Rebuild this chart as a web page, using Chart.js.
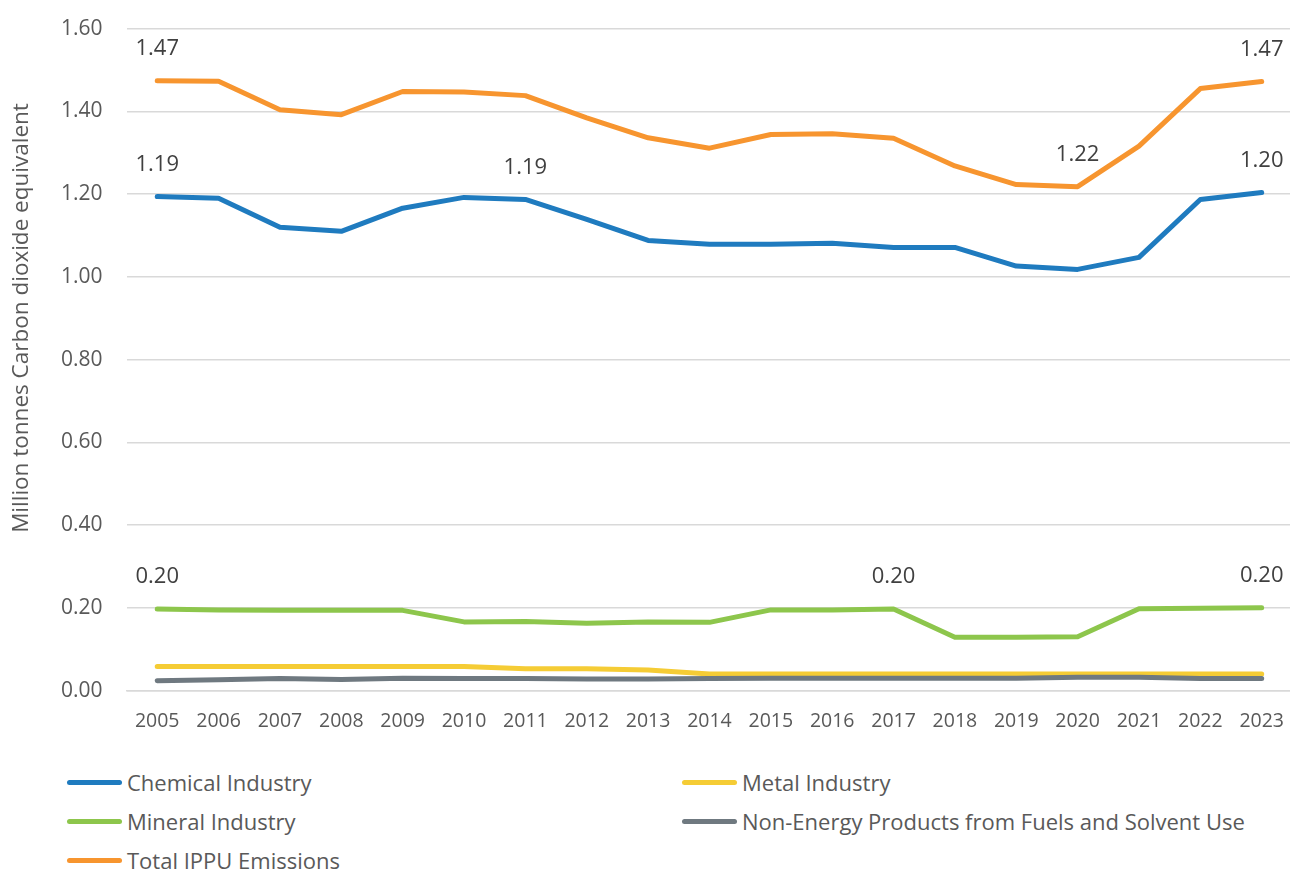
<!DOCTYPE html>
<html>
<head>
<meta charset="utf-8">
<script src="https://cdn.jsdelivr.net/npm/chart.js@4/dist/chart.umd.min.js"></script>
<style>
  html, body { margin: 0; padding: 0; background: #fff; }
  body { width: 1290px; height: 872px; position: relative; overflow: hidden; font-family: "Open Sans", "Noto Sans", sans-serif; }
  #wrap { position: absolute; left: 0; top: -8px; width: 1295px; height: 752px; }
  .legend { position: absolute; left: 67px; top: 767px; display: grid; grid-template-columns: 615px 600px; row-gap: 9px; }
  .legend div { display: flex; align-items: center; font-size: 22px; color: #595959; height: 30px; white-space: nowrap; }
  .legend span { display: inline-block; width: 55px; height: 5px; border-radius: 3px; margin-right: 5px; }
</style>
</head>
<body>
<div id="wrap"><canvas id="chart"></canvas></div>
<div class="legend" id="legend"></div>
<script>
// === Data ===
const years = ["2005","2006","2007","2008","2009","2010","2011","2012","2013","2014","2015","2016","2017","2018","2019","2020","2021","2022","2023"];
const chemical = [1.194,1.190,1.120,1.110,1.166,1.192,1.187,1.139,1.088,1.079,1.079,1.081,1.071,1.071,1.026,1.018,1.047,1.187,1.204];
const metal    = [0.058,0.058,0.058,0.058,0.058,0.058,0.053,0.053,0.050,0.040,0.040,0.040,0.040,0.040,0.040,0.040,0.040,0.040,0.040];
const mineral  = [0.197,0.195,0.194,0.194,0.194,0.166,0.167,0.163,0.166,0.165,0.195,0.195,0.197,0.129,0.129,0.130,0.198,0.199,0.200];
const nonEnergy= [0.024,0.026,0.029,0.027,0.030,0.029,0.029,0.028,0.028,0.029,0.030,0.030,0.030,0.030,0.030,0.032,0.032,0.029,0.029];
const total    = [1.474,1.473,1.404,1.392,1.448,1.447,1.438,1.384,1.336,1.311,1.344,1.346,1.335,1.268,1.223,1.218,1.316,1.455,1.472];
const yTicks = [0, 0.2, 0.4, 0.6, 0.8, 1.0, 1.2, 1.4, 1.6];
const yTitle = "Million tonnes Carbon dioxide equivalent";

// which points get a value label
const chemicalLabels = [0, 6, 18];
const mineralLabels = [0, 12, 18];
const totalLabels = [0, 15, 18];

const FONT = "'Open Sans', 'Noto Sans', sans-serif";

const series = [
  { label: "Chemical Industry", data: chemical, color: "#1f7bbf", labels: chemicalLabels, order: 5 },
  { label: "Metal Industry", data: metal, color: "#f5cc35", labels: [], order: 4 },
  { label: "Mineral Industry", data: mineral, color: "#8dc64c", labels: mineralLabels, order: 3 },
  { label: "Non-Energy Products from Fuels and Solvent Use", data: nonEnergy, color: "#6f7980", labels: [], order: 2 },
  { label: "Total IPPU Emissions", data: total, color: "#f7952f", labels: totalLabels, order: 1 },
];

// === Value labels + axis title plugin ===
const extras = {
  id: "extras",
  afterDatasetsDraw(chart) {
    const ctx = chart.ctx;
    ctx.save();
    ctx.font = "22px " + FONT;
    ctx.fillStyle = "#404040";
    ctx.textAlign = "center";
    ctx.textBaseline = "middle";
    chart.data.datasets.forEach((ds, i) => {
      const meta = chart.getDatasetMeta(i);
      series[i].labels.forEach((idx) => {
        const pt = meta.data[idx];
        ctx.fillText(ds.data[idx].toFixed(2), pt.x, pt.y - 32);
      });
    });
    // y axis title, sits a bit above the plot centre like the original
    ctx.translate(22, 326);
    ctx.rotate(-Math.PI / 2);
    ctx.font = "22.5px " + FONT;
    ctx.fillStyle = "#595959";
    ctx.fillText(yTitle, 0, 0);
    ctx.restore();
  },
};

const ctx = document.getElementById("chart").getContext("2d");
new Chart(ctx, {
  type: "line",
  data: {
    labels: years,
    datasets: series.map((s) => ({
      label: s.label,
      data: s.data,
      borderColor: s.color,
      backgroundColor: s.color,
      borderWidth: 5,
      borderCapStyle: "round",
      borderJoinStyle: "round",
      pointRadius: 0,
      tension: 0,
      order: s.order,
    })),
  },
  options: {
    responsive: true,
    maintainAspectRatio: false,
    animation: false,
    layout: { padding: { top: 6, right: 0, left: 37, bottom: 0 } },
    plugins: {
      legend: { display: false },
      tooltip: { enabled: false },
    },
    scales: {
      y: {
        min: 0,
        max: 1.6,
        afterBuildTicks: (axis) => { axis.ticks = yTicks.map((v) => ({ value: v })); },
        grid: { color: "#d9d9d9", lineWidth: 1.5, drawTicks: false },
        border: { display: false },
        ticks: {
          color: "#595959",
          font: { size: 21, family: FONT },
          padding: 24,
          callback: (v) => Number(v).toFixed(2),
        },
      },
      x: {
        offset: true,
        grid: { display: false },
        border: { color: "#d9d9d9", width: 1.5 },
        ticks: {
          color: "#595959",
          font: { size: 19.5, family: FONT },
          padding: 11,
          maxRotation: 0,
          autoSkip: false,
        },
      },
    },
  },
  plugins: [extras],
});

// === HTML legend ===
const legendEl = document.getElementById("legend");
series.forEach((s) => {
  const item = document.createElement("div");
  item.innerHTML = '<span style="background:' + s.color + '"></span>' + s.label;
  legendEl.appendChild(item);
});
</script>
</body>
</html>
